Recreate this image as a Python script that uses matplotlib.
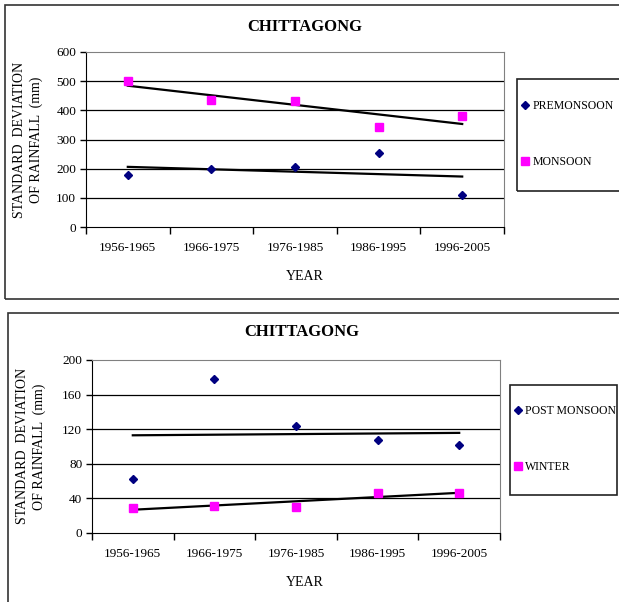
import numpy as np
import matplotlib
matplotlib.use("Agg")
import matplotlib.pyplot as plt
from matplotlib.patches import Rectangle
from matplotlib.lines import Line2D

plt.rcParams['font.family'] = ['Liberation Serif', 'DejaVu Serif']

periods = ["1956-1965", "1966-1975", "1976-1985", "1986-1995", "1996-2005"]
premonsoon = [179, 200, 205, 253, 111]
monsoon = [500, 436, 432, 344, 382]
post_monsoon = [62, 178, 123, 107, 101]
winter = [29, 31, 30, 46, 46]

W, H = 619, 602
fig = plt.figure(figsize=(W / 100, H / 100), dpi=100)


def fx(x):
    return x / W


def fy(y):
    return 1 - y / H


def box(x0, y0, x1, y1, color="#333333", lw=1.2):
    fig.add_artist(Rectangle((fx(x0), fy(y1)), fx(x1) - fx(x0), fy(y0) - fy(y1),
                             transform=fig.transFigure, fill=False,
                             edgecolor=color, linewidth=lw))


def panel(rect, s1, s2, names, ymax, ystep, title_xy, leg_box, leg_y, year_y, ylab_x):
    ax = fig.add_axes(rect)
    x = np.arange(1, len(periods) + 1)
    for s, m, c, ms in [(s1, "D", "#000080", 4.5), (s2, "s", "#FF00FF", 5.5)]:
        ax.plot(x, s, linestyle="none", marker=m, color=c, markersize=ms, zorder=4)
        k, b = np.polyfit(x, s, 1)
        ax.plot([x[0], x[-1]], [k * x[0] + b, k * x[-1] + b], color="black", lw=1.6, zorder=3)
    ax.set_xlim(0.5, len(periods) + 0.5)
    ax.set_ylim(0, ymax)
    ax.set_yticks(np.arange(0, ymax + 1, ystep))
    ax.set_xticks(np.arange(0.5, len(periods) + 1, 1))
    ax.set_xticklabels([])
    ax.set_xticks(x, minor=True)
    ax.set_xticklabels(periods, minor=True)
    ax.tick_params(axis="x", which="major", length=5, width=1, direction="out")
    ax.tick_params(axis="x", which="minor", length=0, pad=11, labelsize=9.5)
    ax.tick_params(axis="y", length=4, width=1, pad=3, labelsize=9.5)
    for v in np.arange(ystep, ymax, ystep):
        ax.axhline(v, color="black", lw=0.9, zorder=1)
    for sp in ["top", "right"]:
        ax.spines[sp].set_color("#808080")
    for sp in ["left", "bottom"]:
        ax.spines[sp].set_color("black")
    ax.set_ylabel("STANDARD  DEVIATION\nOF RAINFALL  (mm)", fontsize=10,
                  linespacing=1.3)
    ax.yaxis.set_label_coords(ylab_x, 0.5)
    fig.text(fx(title_xy[0]), fy(title_xy[1]), "CHITTAGONG", ha="center", va="center",
             fontsize=12, fontweight="bold")
    fig.text(fx(305), fy(year_y), "YEAR", ha="center", va="center", fontsize=10)
    box(*leg_box, color="#222222", lw=1.2)
    handles = [Line2D([], [], linestyle="none", marker="D", color="#000080", markersize=4.5),
               Line2D([], [], linestyle="none", marker="s", color="#FF00FF", markersize=5.5)]
    fig.legend(handles, names, loc="center left", frameon=False,
               bbox_to_anchor=(fx(leg_box[0] + 4), fy(leg_y)), fontsize=8.5,
               handlelength=0.6, handletextpad=0.35, labelspacing=3.7,
               borderpad=0, borderaxespad=0)
    return ax


box(5, 5, 622, 299)
box(8, 313, 622, 610)

panel([fx(86), fy(227), fx(504) - fx(86), fy(52) - fy(227)],
      premonsoon, monsoon, ["PREMONSOON", "MONSOON"], 600, 100,
      (305, 27), (517, 79, 625, 191), 134, 277, -0.103)
panel([fx(92), fy(532.7), fx(500) - fx(92), fy(360) - fy(532.7)],
      post_monsoon, winter, ["POST MONSOON", "WINTER"], 200, 40,
      (302, 332), (510, 385, 617, 495), 439, 582, -0.113)

fig.savefig("out.png", dpi=100)
